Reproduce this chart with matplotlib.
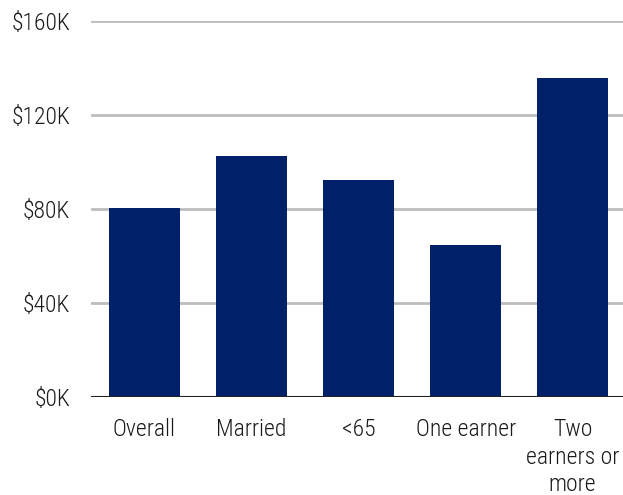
import numpy as np
import matplotlib.pyplot as plt
from matplotlib.ticker import FuncFormatter

categories = ['Overall', 'Married', '<65', 'One earner', 'Two\nearners or\nmore']
income_k = [80.4, 102.7, 92.3, 64.8, 135.7]
y_ticks = [0, 40, 80, 120, 160]

plt.rcParams['font.family'] = ['Roboto Condensed', 'Open Sans Condensed', 'DejaVu Sans']
plt.rcParams['font.weight'] = 'light'

fig = plt.figure(figsize=(6.23, 4.95), dpi=100)
ax = fig.add_axes([0.146, 0.197, 0.854, 0.761])

x = np.arange(len(categories))
ax.bar(x, income_k, width=0.665, color='#00206a', zorder=3)

ax.set_ylim(0, 160)
ax.set_xlim(-0.5, 4.47)
ax.set_yticks(y_ticks)
ax.yaxis.set_major_formatter(FuncFormatter(lambda v, p: '$%dK' % v))
ax.set_xticks(x)
ax.set_xticklabels(categories, linespacing=1.25)

ax.grid(axis='y', color='#bdbdbd', linewidth=2, zorder=0)
ax.axhline(0, color='#222222', linewidth=1.5, zorder=4)

for s in ax.spines.values():
    s.set_visible(False)
ax.tick_params(axis='both', length=0, labelsize=17, colors='#1a1a1a')
ax.tick_params(axis='y', pad=15)
ax.tick_params(axis='x', pad=15)

fig.savefig('out.png', dpi=100)
